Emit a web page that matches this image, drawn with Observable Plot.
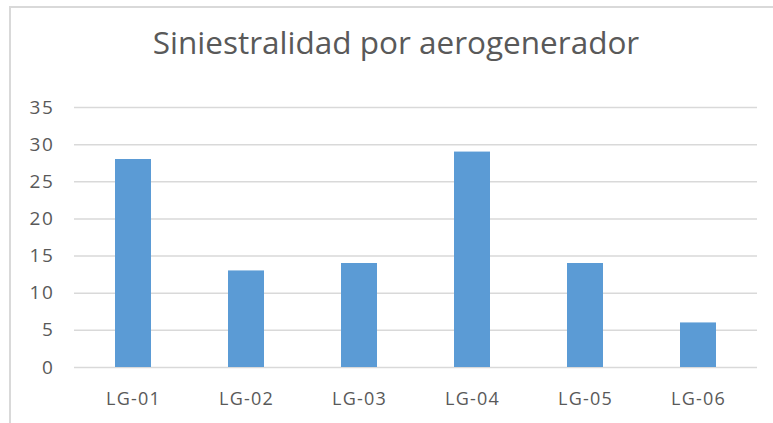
<!DOCTYPE html>
<html>
<head>
<meta charset="utf-8">
<script src="https://cdn.jsdelivr.net/npm/d3@7"></script>
<script src="https://cdn.jsdelivr.net/npm/@observablehq/plot@0.6"></script>
<style>
  html, body { margin: 0; padding: 0; background: #fff; }
  #wrap { position: relative; width: 773px; height: 423px; overflow: hidden; background: #fff; }
  #frame { position: absolute; left: 9px; top: 6px; width: 800px; height: 450px;
           border-left: 2px solid #d9d9d9; border-top: 2px solid #d9d9d9; }
  #title { position: absolute; left: 0; width: 792px; top: 26px; text-align: center;
           font-family: "Open Sans", sans-serif; font-size: 31.5px; color: #595959; line-height: 1; }
  #chart { position: absolute; left: 0; top: 0; }
  #chart svg text { letter-spacing: 1.2px; }
  #chart svg g[aria-label="y-axis tick label"] text { letter-spacing: 1.6px; }
</style>
</head>
<body>
<div id="wrap">
  <div id="frame"></div>
  <div id="title">Siniestralidad por aerogenerador</div>
  <div id="chart"></div>
</div>
<script>
// Siniestros registrados por cada aerogenerador
const turbines = ["LG-01", "LG-02", "LG-03", "LG-04", "LG-05", "LG-06"];
const incidents = [28, 13, 14, 29, 14, 6];
const yTicks = [0, 5, 10, 15, 20, 25, 30, 35];

const data = turbines.map((t, i) => ({turbine: t, count: incidents[i]}));

const chart = Plot.plot({
  width: 773,
  height: 423,
  marginTop: 107,
  marginBottom: 56,
  marginLeft: 74,
  marginRight: 16,
  style: {fontFamily: "Open Sans, sans-serif", background: "transparent"},
  x: {domain: turbines, paddingInner: 0.68, paddingOuter: 0.34, label: null},
  y: {domain: [0, 35], ticks: yTicks, label: null},
  marks: [
    Plot.ruleY(yTicks, {stroke: "#d9d9d9", strokeWidth: 1.5}),
    Plot.barY(data, {x: "turbine", y: "count", fill: "#5b9bd5"}),
    Plot.axisY({ticks: yTicks, tickSize: 0, tickPadding: 20, fontSize: 19, fill: "#595959", label: null}),
    Plot.axisX({tickSize: 0, tickPadding: 25, fontSize: 18, fill: "#595959", label: null})
  ]
});
document.getElementById("chart").appendChild(chart);
</script>
</body>
</html>
